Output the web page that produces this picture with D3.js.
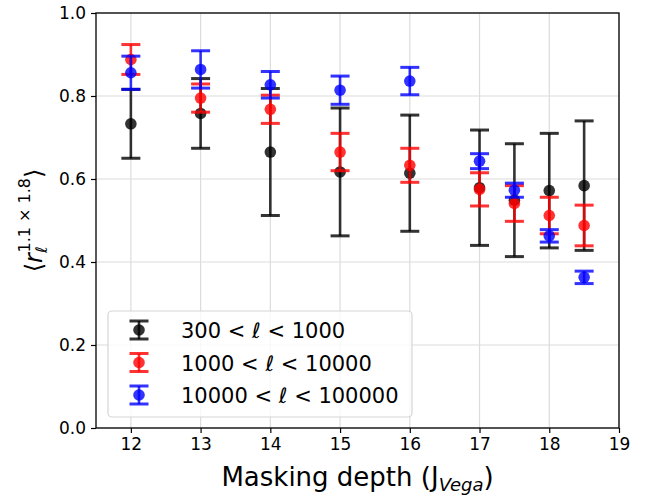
<!DOCTYPE html>
<html>
<head>
<meta charset="utf-8">
<script src="https://cdn.jsdelivr.net/npm/d3@7"></script>
<style>
  body { margin: 0; background: #fff; }
  svg { display: block; font-family: "DejaVu Sans", sans-serif; }
</style>
</head>
<body>
<svg id="chart" width="651" height="495"></svg>
<script>
// ---- data ----
const depths = [12, 13, 14, 15, 16, 17, 17.5, 18, 18.5];
const lowMean  = [0.733, 0.758, 0.665, 0.617, 0.614, 0.579, 0.549, 0.572, 0.584];
const lowErr   = [0.083, 0.084, 0.153, 0.154, 0.140, 0.139, 0.136, 0.138, 0.156];
const midMean  = [0.888, 0.795, 0.768, 0.665, 0.633, 0.575, 0.541, 0.512, 0.488];
const midErr   = [0.036, 0.034, 0.034, 0.045, 0.041, 0.040, 0.043, 0.044, 0.049];
const highMean = [0.856, 0.864, 0.827, 0.814, 0.836, 0.643, 0.573, 0.463, 0.363];
const highErr  = [0.040, 0.045, 0.032, 0.034, 0.033, 0.018, 0.017, 0.015, 0.015];
const seriesLabels = [["300", "1000"], ["1000", "10000"], ["10000", "100000"]];
const seriesColors = ["#000000", "#ff0000", "#0000ff"];
const xTicks = [12, 13, 14, 15, 16, 17, 18, 19];
const yTicks = [0.0, 0.2, 0.4, 0.6, 0.8, 1.0];

const series = [
  { mean: lowMean, err: lowErr },
  { mean: midMean, err: midErr },
  { mean: highMean, err: highErr }
];

// ---- layout ----
const L = 96, R = 619, T = 13, B = 428;
const svg = d3.select("#chart");
const x = d3.scaleLinear().domain([11.5, 19]).range([L, R]);
const y = d3.scaleLinear().domain([0, 1]).range([B, T]);

// grid
const grid = svg.append("g");
grid.selectAll("line.gx").data(xTicks).enter().append("line")
  .attr("x1", d => x(d)).attr("x2", d => x(d)).attr("y1", T).attr("y2", B)
  .attr("stroke", "#dcdcdc").attr("stroke-width", 1.2);
grid.selectAll("line.gy").data(yTicks).enter().append("line")
  .attr("y1", d => y(d)).attr("y2", d => y(d)).attr("x1", L).attr("x2", R)
  .attr("stroke", "#dcdcdc").attr("stroke-width", 1.2);

// axes
const xAxis = d3.axisBottom(x).tickValues(xTicks).tickFormat(d3.format("d")).tickSize(5).tickPadding(5);
const yAxis = d3.axisLeft(y).tickValues(yTicks).tickFormat(d3.format(".1f")).tickSize(5).tickPadding(5);
const gx = svg.append("g").attr("transform", `translate(0,${B})`).call(xAxis);
const gy = svg.append("g").attr("transform", `translate(${L},0)`).call(yAxis);
[gx, gy].forEach(g => {
  g.select(".domain").remove();
  g.selectAll(".tick line").attr("stroke", "#000").attr("stroke-width", 1.2);
  g.selectAll(".tick text").attr("fill", "#000").style("font-size", "17px").style("font-family", "DejaVu Sans");
});

// data
const capHalf = 9.5, rMark = 5.8, op = 0.8;
series.forEach((s, si) => {
  const g = svg.append("g");
  const col = seriesColors[si];
  depths.forEach((d, i) => {
    const cx = x(d), lo = y(s.mean[i] - s.err[i]), hi = y(s.mean[i] + s.err[i]);
    g.append("line").attr("x1", cx).attr("x2", cx).attr("y1", lo).attr("y2", hi)
      .attr("stroke", col).attr("stroke-opacity", op).attr("stroke-width", 2.6);
    [lo, hi].forEach(yy => g.append("line")
      .attr("x1", cx - capHalf).attr("x2", cx + capHalf).attr("y1", yy).attr("y2", yy)
      .attr("stroke", col).attr("stroke-opacity", op).attr("stroke-width", 3));
    g.append("circle").attr("cx", cx).attr("cy", y(s.mean[i])).attr("r", rMark)
      .attr("fill", col).attr("fill-opacity", op);
  });
});

// frame
svg.append("rect").attr("x", L).attr("y", T).attr("width", R - L).attr("height", B - T)
  .attr("fill", "none").attr("stroke", "#000").attr("stroke-width", 1.3);

// legend
const lg = svg.append("g");
lg.append("rect").attr("x", 108).attr("y", 311).attr("width", 304).attr("height", 106)
  .attr("rx", 4).attr("fill", "#fff").attr("fill-opacity", 0.8)
  .attr("stroke", "#d5d5d5").attr("stroke-width", 1.2);
seriesLabels.forEach((lab, i) => {
  const yy = 330 + i * 32.5, mx = 139, col = seriesColors[i];
  lg.append("line").attr("x1", mx).attr("x2", mx).attr("y1", yy - 9).attr("y2", yy + 9)
    .attr("stroke", col).attr("stroke-opacity", op).attr("stroke-width", 2.6);
  [yy - 9, yy + 9].forEach(cy => lg.append("line").attr("x1", mx - 9.5).attr("x2", mx + 9.5)
    .attr("y1", cy).attr("y2", cy).attr("stroke", col).attr("stroke-opacity", op).attr("stroke-width", 3));
  lg.append("circle").attr("cx", mx).attr("cy", yy).attr("r", rMark).attr("fill", col).attr("fill-opacity", op);
  const t = lg.append("text").attr("x", 181).attr("y", yy + 8).style("font-size", "21px").attr("fill", "#000");
  t.append("tspan").text(lab[0] + " < ");
  t.append("tspan").style("font-style", "italic").text("ℓ");
  t.append("tspan").text(" < " + lab[1]);
});

// x label
const xl = svg.append("text").attr("x", (L + R) / 2).attr("y", 486).attr("text-anchor", "middle")
  .style("font-size", "26px").attr("fill", "#000");
xl.append("tspan").text("Masking depth (J");
xl.append("tspan").attr("dy", 5).style("font-size", "18px").style("font-style", "italic").text("Vega");
xl.append("tspan").attr("dy", -5).text(")");

// y label
const yl = svg.append("text").attr("transform", `translate(42,${(T + B) / 2}) rotate(-90)`)
  .attr("text-anchor", "middle").style("font-size", "24px").attr("fill", "#000");
yl.append("tspan").text("⟨");
yl.append("tspan").style("font-style", "italic").text("r");
yl.append("tspan").attr("dy", 5).style("font-size", "16px").style("font-style", "italic").text("ℓ");
yl.append("tspan").attr("dx", -6).attr("dy", -17).style("font-size", "16px").text("1.1 × 1.8");
yl.append("tspan").attr("dy", 12).text("⟩");
</script>
</body>
</html>
